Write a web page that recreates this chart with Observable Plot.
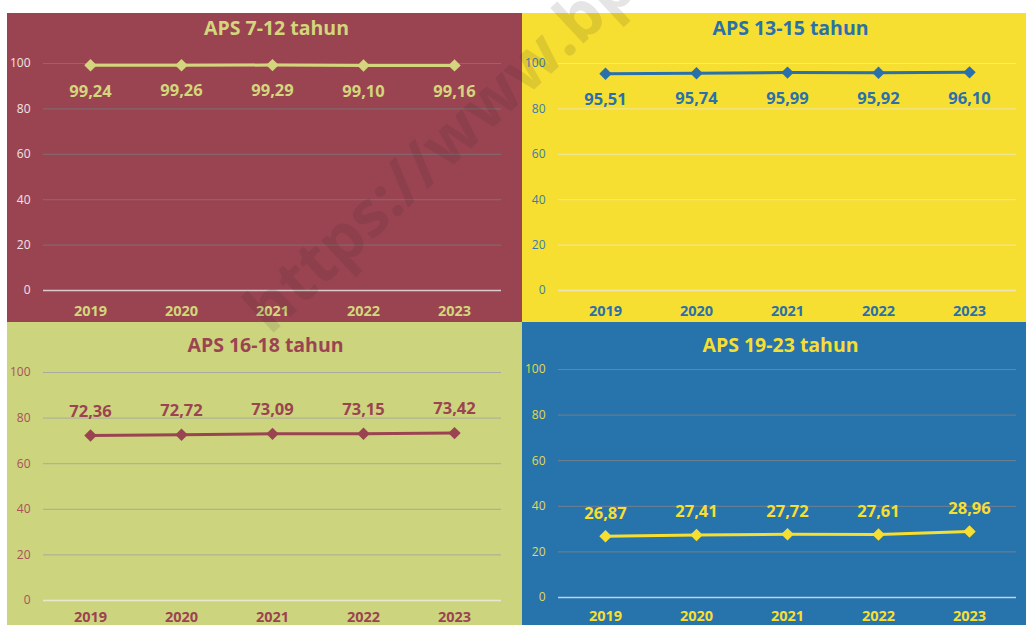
<!DOCTYPE html>
<html>
<head>
<meta charset="utf-8">
<script src="https://cdn.jsdelivr.net/npm/d3@7"></script>
<script src="https://cdn.jsdelivr.net/npm/@observablehq/plot@0.6"></script>
<style>
  html, body { margin: 0; padding: 0; background: #ffffff; }
  #wrap { position: relative; width: 1026px; height: 625px; overflow: hidden; background: #ffffff; font-family: "Open Sans", sans-serif; }
  .panel { position: absolute; overflow: hidden; }
  .panel svg { display: block; }
  #wm { position: absolute; left: 0; top: 0; pointer-events: none; }
</style>
</head>
<body>
<div id="wrap"></div>
<script>
// ---- data ----
const years = ["2019", "2020", "2021", "2022", "2023"];
const aps7_12 = [99.24, 99.26, 99.29, 99.10, 99.16];
const aps13_15 = [95.51, 95.74, 95.99, 95.92, 96.10];
const aps16_18 = [72.36, 72.72, 73.09, 73.15, 73.42];
const aps19_23 = [26.87, 27.41, 27.72, 27.61, 28.96];
const titles = ["APS 7-12 tahun", "APS 13-15 tahun", "APS 16-18 tahun", "APS 19-23 tahun"];
const yTicks = [0, 20, 40, 60, 80, 100];

const fmt = v => d3.format(".2f")(v).replace(".", ",");

const panels = [
  {title: titles[0], values: aps7_12, left: 7, top: 13, width: 515, height: 309,
   mt: 50, mb: 32, ml: 36, mr: 21, bg: "#9B4451", fg: "#D3D67C", tick: "#F1E4E4",
   grid: "#7f6f73", zero: "#D9CBCD", labelDy: 26, titleDx: 4, titleY: 8, xPad: 15},
  {title: titles[1], values: aps13_15, left: 522, top: 13, width: 504, height: 309,
   mt: 50, mb: 32, ml: 36, mr: 10, bg: "#F7DF32", fg: "#2A70AA", tick: "#3C7BAE",
   grid: "#EFE6A6", zero: "#EDE6B4", labelDy: 26, titleDx: 3, titleY: 8, xPad: 15},
  {title: titles[2], values: aps16_18, left: 7, top: 322, width: 515, height: 303,
   mt: 50, mb: 25, ml: 36, mr: 21, bg: "#CDD47E", fg: "#9B4451", tick: "#A9515B",
   grid: "#A7AA9C", zero: "#E6E9CF", labelDy: -24, titleDx: -7, titleY: 16, xPad: 11},
  {title: titles[3], values: aps19_23, left: 522, top: 322, width: 504, height: 303,
   mt: 47, mb: 28, ml: 36, mr: 10, bg: "#2773AB", fg: "#F7DF32", tick: "#E3D955",
   grid: "#76808A", zero: "#BCD3EA", labelDy: -23, titleDx: -7, titleY: 16, xPad: 13}
];

const wrap = document.getElementById("wrap");

for (const p of panels) {
  const data = years.map((yr, i) => ({year: yr, value: p.values[i]}));
  const chart = Plot.plot({
    width: p.width,
    height: p.height,
    marginTop: p.mt,
    marginBottom: p.mb,
    marginLeft: p.ml,
    marginRight: p.mr,
    style: {background: p.bg, fontFamily: "'Open Sans', sans-serif", overflow: "visible"},
    x: {type: "point", domain: years, padding: 0.5, axis: null},
    y: {domain: [0, 100], axis: null},
    marks: [
      Plot.ruleY(yTicks.filter(t => t > 0), {stroke: p.grid, strokeWidth: 1}),
      Plot.ruleY([0], {stroke: p.zero, strokeWidth: 1.5}),
      Plot.axisY({ticks: yTicks, tickSize: 0, tickPadding: 13, fontSize: 12, color: p.tick, label: null, tickFormat: d => String(d)}),
      Plot.axisX({tickSize: 0, tickPadding: p.xPad, fontSize: 14.5, fontWeight: "bold", color: p.fg, label: null}),
      Plot.line(data, {x: "year", y: "value", stroke: p.fg, strokeWidth: 3}),
      Plot.dot(data, {x: "year", y: "value", symbol: "diamond2", r: 5.6, fill: p.fg, stroke: "none"}),
      Plot.text(data, {x: "year", y: "value", text: d => fmt(d.value), dy: p.labelDy, fill: p.fg, fontSize: 16.5, fontWeight: "bold"}),
      Plot.text([p.title], {frameAnchor: "top", lineAnchor: "top", dy: p.titleY - p.mt, dx: p.titleDx, text: d => d, fill: p.fg, fontSize: 19.5, fontWeight: "bold"})
    ]
  });
  const div = document.createElement("div");
  div.className = "panel";
  div.style.left = p.left + "px";
  div.style.top = p.top + "px";
  div.style.width = p.width + "px";
  div.style.height = p.height + "px";
  div.style.background = p.bg;
  div.appendChild(chart);
  wrap.appendChild(div);
}

// watermark overlay
const ns = "http://www.w3.org/2000/svg";
const wm = document.createElementNS(ns, "svg");
wm.setAttribute("id", "wm");
wm.setAttribute("width", 1026);
wm.setAttribute("height", 625);
const t = document.createElementNS(ns, "text");
t.setAttribute("x", 270);
t.setAttribute("y", 336);
t.setAttribute("transform", "rotate(-43 270 336)");
t.setAttribute("font-family", "'Open Sans', sans-serif");
t.setAttribute("font-weight", "bold");
t.setAttribute("font-size", 64);
t.setAttribute("fill", "rgba(40,40,40,0.12)");
t.textContent = "https://www.bps.go.id";
wm.appendChild(t);
wrap.appendChild(wm);
</script>
</body>
</html>
